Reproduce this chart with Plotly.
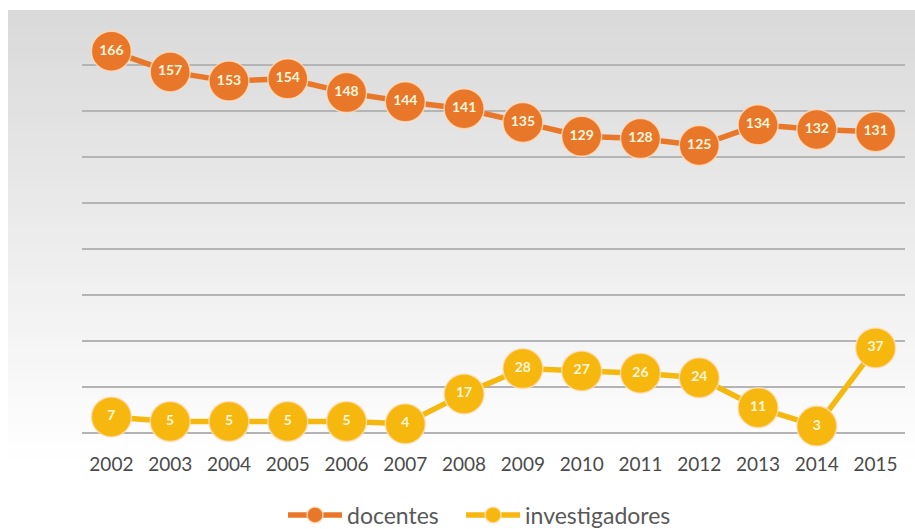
import plotly.graph_objects as go

# Annual headcount series
years = [2002, 2003, 2004, 2005, 2006, 2007, 2008, 2009, 2010, 2011, 2012, 2013, 2014, 2015]
docentes = [166, 157, 153, 154, 148, 144, 141, 135, 129, 128, 125, 134, 132, 131]
investigadores = [7, 5, 5, 5, 5, 4, 17, 28, 27, 26, 24, 11, 3, 37]

W, H = 915, 529
M_L, M_R, M_T, M_B = 82, 10, 19, 96
plot_w = W - M_L - M_R
plot_h = H - M_T - M_B

ORANGE = "#e8772a"
YELLOW = "#f6b80f"


def px_to_paper(x, y):
    return (x - M_L) / plot_w, (H - M_B - y) / plot_h


fig = go.Figure()

for name, label, vals, col in [("docentes", "docentes\u2003", docentes, ORANGE),
                               ("investigadores", "investigadores", investigadores, YELLOW)]:
    fig.add_trace(go.Scatter(
        x=years, y=vals, name=label,
        mode="lines+markers+text",
        line=dict(color=col, width=5.5),
        marker=dict(size=40, color=col, line=dict(color="rgba(255,222,190,0.8)", width=1.5)),
        text=[str(v) for v in vals],
        textposition="middle center",
        textfont=dict(family="Lato", size=14, color="#fff6dc", weight="bold"),
        cliponaxis=False,
    ))

# Soft vertical gradient backdrop
shapes = []
n = 60
top, bottom = 10, H
for i in range(n):
    y0 = top + (bottom - top) * i / n
    y1 = top + (bottom - top) * (i + 1) / n
    t = i / (n - 1)
    c = int(218 + (255 - 218) * min(1.0, t * 1.15))
    x0p, y0p = px_to_paper(8, y0)
    x1p, y1p = px_to_paper(W, y1 + 1)
    shapes.append(dict(type="rect", xref="paper", yref="paper",
                       x0=x0p, x1=x1p, y0=y1p, y1=y0p,
                       fillcolor=f"rgb({c},{c},{c})", line=dict(width=0),
                       layer="below"))

fig.update_layout(
    width=W, height=H,
    margin=dict(l=M_L, r=M_R, t=M_T, b=M_B, autoexpand=False),
    paper_bgcolor="white",
    plot_bgcolor="rgba(0,0,0,0)",
    shapes=shapes,
    showlegend=True,
    legend=dict(orientation="h", xref="container", x=283 / W, xanchor="left",
                yref="container", y=(H - 515) / H, yanchor="middle",
                font=dict(family="Lato", size=23, color="#595959"),
                bgcolor="rgba(0,0,0,0)", itemwidth=54),
    xaxis=dict(range=[2001.5, 2015.5], tickmode="array", tickvals=years,
               ticktext=[str(y) for y in years], showgrid=False, zeroline=False,
               showline=False, ticks="outside", ticklen=14, tickcolor="rgba(0,0,0,0)",
               tickfont=dict(family="Lato", size=19, color="#4a4a4a")),
    yaxis=dict(range=[0, 180], dtick=20, showticklabels=False, showgrid=True,
               gridcolor="#b4b4b4", gridwidth=1.5, zeroline=True,
               zerolinecolor="#b4b4b4", zerolinewidth=1.5),
)

fig.write_html("out.html")
